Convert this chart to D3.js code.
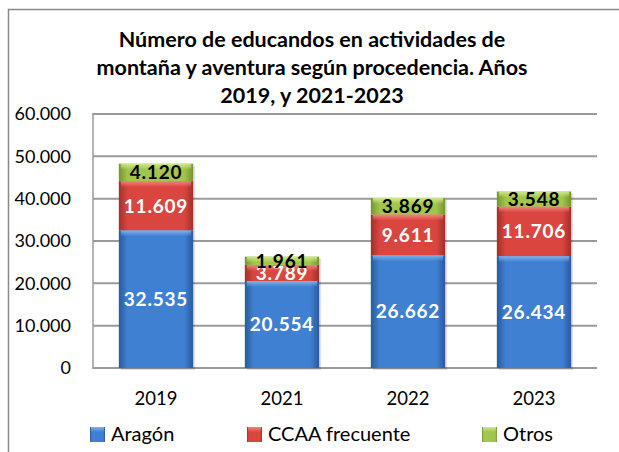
<!DOCTYPE html>
<html>
<head>
<meta charset="utf-8">
<script src="https://cdn.jsdelivr.net/npm/d3@7"></script>
<style>
  body { margin: 0; background: #fff; }
  svg { display: block; font-family: Lato, "Open Sans", sans-serif; }
</style>
</head>
<body>
<div id="chart"></div>
<script>
const years = ['2019', '2021', '2022', '2023'];
const aragon = [32535, 20554, 26662, 26434];
const ccaa = [11609, 3789, 9611, 11706];
const otros = [4120, 1961, 3869, 3548];
const seriesNames = ['Aragón', 'CCAA frecuente', 'Otros'];
const yTicks = [0, 10000, 20000, 30000, 40000, 50000, 60000];
const titleLines = [
    'Número de educandos en actividades de',
    'montaña y aventura según procedencia. Años',
    '2019, y 2021-2023'
];

const W = 619, H = 452;
const plot = { left: 93, right: 597, top: 114, bottom: 368 };

// colours: [middle, edge, top highlight]
const palette = [
    ['#3f80d2', '#2a5a9c', '#7fb3ee'],
    ['#da463f', '#a0302b', '#f3857c'],
    ['#a2c54b', '#74942e', '#d0e88a']
];
const labelColors = ['#fff', '#fff', '#000'];

const es = d3.formatLocale({ decimal: ',', thousands: '.', grouping: [3], currency: ['', '€'] });
const fmt = es.format(',d');

const svg = d3.select('#chart').append('svg')
    .attr('width', W)
    .attr('height', H);

const defs = svg.append('defs');
palette.forEach((c, i) => {
    const g = defs.append('linearGradient')
        .attr('id', 'grad' + i)
        .attr('x1', '0%').attr('x2', '100%').attr('y1', '0%').attr('y2', '0%');
    g.append('stop').attr('offset', '0%').attr('stop-color', c[1]);
    g.append('stop').attr('offset', '12%').attr('stop-color', c[0]);
    g.append('stop').attr('offset', '88%').attr('stop-color', c[0]);
    g.append('stop').attr('offset', '100%').attr('stop-color', c[1]);

    const v = defs.append('linearGradient')
        .attr('id', 'top' + i)
        .attr('x1', '0%').attr('x2', '0%').attr('y1', '0%').attr('y2', '100%');
    v.append('stop').attr('offset', '0%').attr('stop-color', c[2]).attr('stop-opacity', 1);
    v.append('stop').attr('offset', '100%').attr('stop-color', c[2]).attr('stop-opacity', 0);
});

// outer frame
svg.append('rect')
    .attr('x', 8.5).attr('y', 9.5)
    .attr('width', W).attr('height', H)
    .attr('fill', 'none')
    .attr('stroke', '#8a8a8a')
    .attr('stroke-width', 1.5);

// title
svg.append('text')
    .attr('text-anchor', 'middle')
    .attr('font-weight', 'bold')
    .attr('font-size', '21.5px')
    .attr('fill', '#000')
    .selectAll('tspan')
    .data(titleLines)
    .enter().append('tspan')
      .attr('x', 312)
      .attr('y', (d, i) => 47 + i * 28)
      .text(d => d);

const x = d3.scaleBand()
    .domain(years)
    .range([plot.left, plot.right])
    .paddingInner(0.41)
    .paddingOuter(0.205);

const y = d3.scaleLinear()
    .domain([0, 60000])
    .range([plot.bottom, plot.top]);

// gridlines
svg.append('g')
    .selectAll('line')
    .data(yTicks)
    .enter().append('line')
      .attr('x1', plot.left).attr('x2', plot.right)
      .attr('y1', d => y(d)).attr('y2', d => y(d))
      .attr('stroke', '#9a9a9a')
      .attr('stroke-width', 2);

svg.append('line')
    .attr('x1', plot.left).attr('x2', plot.left)
    .attr('y1', y(60000) - 1).attr('y2', y(0) + 1)
    .attr('stroke', '#9a9a9a')
    .attr('stroke-width', 1.5);

// y axis labels
const yAxis = d3.axisLeft(y).tickValues(yTicks).tickFormat(fmt).tickSize(0).tickPadding(22);
const yg = svg.append('g')
    .attr('transform', `translate(${plot.left},0)`)
    .call(yAxis);
yg.select('.domain').remove();
yg.selectAll('text')
    .attr('font-family', 'Lato, sans-serif')
    .attr('font-size', '18px')
    .attr('fill', '#000');

// x axis labels
const xAxis = d3.axisBottom(x).tickSize(0).tickPadding(24);
const xg = svg.append('g')
    .attr('transform', `translate(0,${plot.bottom})`)
    .call(xAxis);
xg.select('.domain').remove();
xg.selectAll('text')
    .attr('font-family', 'Lato, sans-serif')
    .attr('font-size', '18.5px')
    .attr('fill', '#000');

// stacked data
const table = years.map((yr, i) => ({ year: yr, a: aragon[i], c: ccaa[i], o: otros[i] }));
const stack = d3.stack().keys(['a', 'c', 'o'])(table);

// shadow behind bars
svg.append('g')
    .selectAll('rect')
    .data(table)
    .enter().append('rect')
      .attr('x', d => x(d.year) + 2)
      .attr('y', d => y(d.a + d.c + d.o) + 2)
      .attr('width', x.bandwidth())
      .attr('height', d => y(0) - y(d.a + d.c + d.o))
      .attr('fill', '#000')
      .attr('opacity', 0.12);

const layers = svg.append('g')
    .selectAll('g')
    .data(stack)
    .enter().append('g');

layers.selectAll('rect.seg')
    .data((s, i) => s.map(d => ({ d, i })))
    .enter().append('rect')
      .attr('class', 'seg')
      .attr('x', p => x(p.d.data.year))
      .attr('y', p => y(p.d[1]))
      .attr('width', x.bandwidth())
      .attr('height', p => y(p.d[0]) - y(p.d[1]))
      .attr('fill', p => `url(#grad${p.i})`);

layers.selectAll('rect.bevel')
    .data((s, i) => s.map(d => ({ d, i })))
    .enter().append('rect')
      .attr('class', 'bevel')
      .attr('x', p => x(p.d.data.year) + 2)
      .attr('y', p => y(p.d[1]))
      .attr('width', x.bandwidth() - 4)
      .attr('height', p => Math.min(6, y(p.d[0]) - y(p.d[1])))
      .attr('fill', p => `url(#top${p.i})`);

// clip paths so the middle-series labels stay inside their segment
stack[1].forEach((d, j) => {
    defs.append('clipPath')
        .attr('id', 'clipc' + j)
      .append('rect')
        .attr('x', x(d.data.year))
        .attr('y', y(d[1]))
        .attr('width', x.bandwidth())
        .attr('height', y(d[0]) - y(d[1]));
});

// value labels
const labels = svg.append('g')
    .attr('font-family', 'Lato, sans-serif')
    .attr('font-weight', 'bold')
    .attr('font-size', '19px')
    .attr('letter-spacing', '0.8px')
    .attr('text-anchor', 'middle');

stack.forEach((s, i) => {
    labels.selectAll(null)
        .data(s)
        .enter().append('text')
          .attr('x', d => x(d.data.year) + x.bandwidth() / 2)
          .attr('y', d => (y(d[0]) + y(d[1])) / 2)
          .attr('dy', '0.36em')
          .attr('fill', labelColors[i])
          .attr('clip-path', (d, j) => i === 1 ? `url(#clipc${j})` : null)
          .text(d => fmt(d[1] - d[0]));
});

// legend
const legendX = [90, 247, 482];
const legend = svg.append('g')
    .selectAll('g')
    .data(seriesNames)
    .enter().append('g')
      .attr('transform', (d, i) => `translate(${legendX[i]},427)`);

legend.append('rect')
    .attr('width', 15).attr('height', 15)
    .attr('fill', (d, i) => `url(#grad${i})`);
legend.append('rect')
    .attr('x', 1).attr('width', 13).attr('height', 5)
    .attr('fill', (d, i) => `url(#top${i})`);
legend.append('text')
    .attr('x', 21)
    .attr('y', 14)
    .attr('font-family', 'Lato, sans-serif')
    .attr('font-size', '20px')
    .attr('fill', '#000')
    .text(d => d);
</script>
</body>
</html>
